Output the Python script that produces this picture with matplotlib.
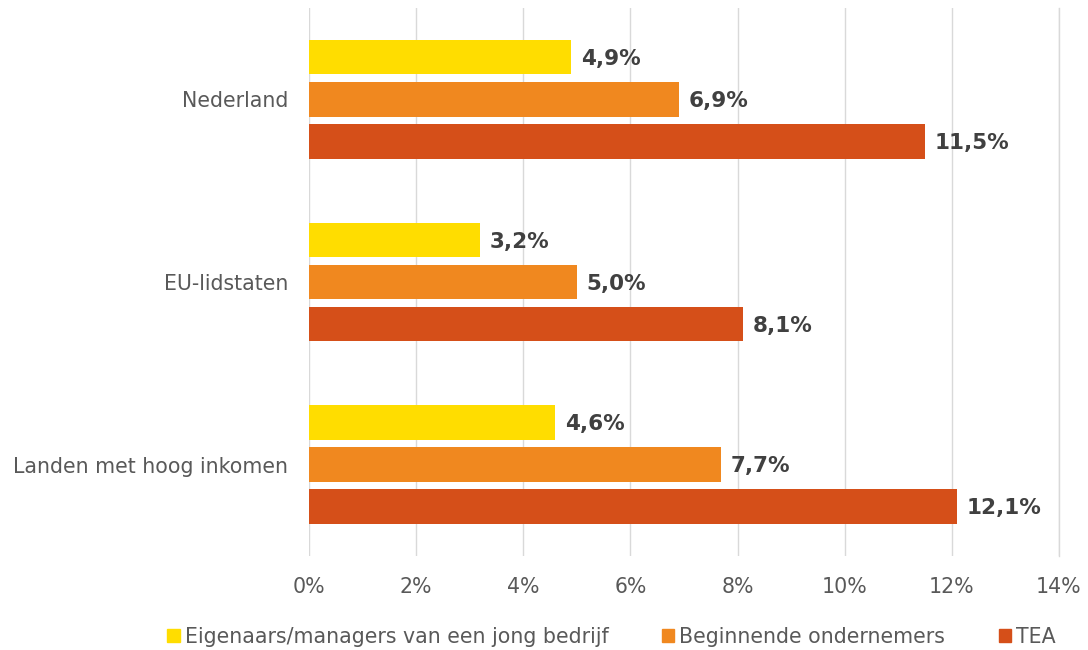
import matplotlib.pyplot as plt
import numpy as np
from matplotlib.patches import Patch

# data
categories = ['Nederland', 'EU-lidstaten', 'Landen met hoog inkomen']
series_names = ['Eigenaars/managers van een jong bedrijf', 'Beginnende ondernemers', 'TEA']
eigenaars = [4.9, 3.2, 4.6]
beginnend = [6.9, 5.0, 7.7]
tea = [11.5, 8.1, 12.1]
colors = ['#FFDD00', '#F0881F', '#D54F19']

plt.rcParams['font.family'] = ['DejaVu Sans']

fig = plt.figure(figsize=(10.88, 6.5), dpi=100)
ax = fig.add_axes([0.284, 0.1446, 0.6893, 0.8434])

y = np.arange(len(categories))
step = 0.23
height = 0.19
for i, (vals, col) in enumerate(zip([eigenaars, beginnend, tea], colors)):
    pos = y + (i - 1) * step
    ax.barh(pos, vals, height=height, color=col, zorder=3)
    for p, v in zip(pos, vals):
        ax.text(v + 0.18, p + 0.01, f'{v:.1f}%'.replace('.', ','), va='center', ha='left',
                fontsize=15.5, fontweight='bold', color='#404040')

ax.set_ylim(len(categories) - 0.5, -0.5)
ax.set_xlim(0, 14)
ax.set_xticks(range(0, 15, 2))
ax.set_xticklabels([f'{t}%' for t in range(0, 15, 2)])
ax.set_yticks(y)
ax.set_yticklabels(categories)
ax.tick_params(axis='both', length=0, labelsize=14.8, labelcolor='#595959')
ax.tick_params(axis='x', pad=15)
ax.tick_params(axis='y', pad=15)
ax.grid(axis='x', color='#D9D9D9', linewidth=1, zorder=0)
# laatste rasterlijn niet laten wegvallen aan de rand
ax.axvline(14, color='#D9D9D9', linewidth=1, zorder=0, clip_on=False)
for s in ax.spines.values():
    s.set_visible(False)

handles = [Patch(color=c) for c in colors]
fig.legend(handles, series_names, loc='center', bbox_to_anchor=(0.562, 0.02),
           ncol=3, frameon=False, fontsize=14.8, labelcolor='#595959',
           handlelength=0.6, handleheight=0.6, handletextpad=0.25, columnspacing=2.6)

fig.savefig('out.png', dpi=100)
